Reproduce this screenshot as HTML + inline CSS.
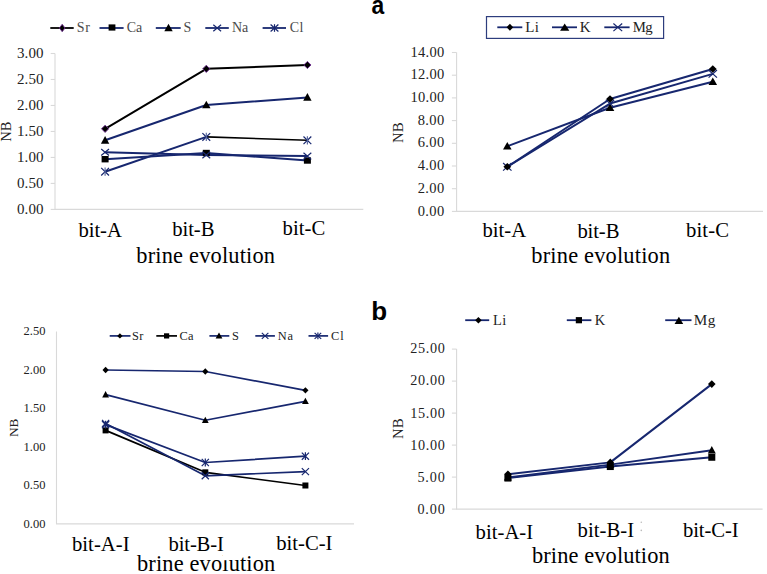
<!DOCTYPE html><html><head><meta charset="utf-8"><style>html,body{margin:0;padding:0;background:#fff;width:767px;height:574px;overflow:hidden}svg{display:block}</style></head><body>
<svg width="767" height="574" viewBox="0 0 767 574">
<rect width="767" height="574" fill="#fff"/>
<path d="M55.0 53.5V209.4H363.3" stroke="#d9d9d9" stroke-width="1.1" fill="none"/>
<path d="M50.7 209.40H55.0" stroke="#d9d9d9" stroke-width="1.1"/>
<path d="M50.7 183.42H55.0" stroke="#d9d9d9" stroke-width="1.1"/>
<path d="M50.7 157.43H55.0" stroke="#d9d9d9" stroke-width="1.1"/>
<path d="M50.7 131.45H55.0" stroke="#d9d9d9" stroke-width="1.1"/>
<path d="M50.7 105.47H55.0" stroke="#d9d9d9" stroke-width="1.1"/>
<path d="M50.7 79.48H55.0" stroke="#d9d9d9" stroke-width="1.1"/>
<path d="M50.7 53.50H55.0" stroke="#d9d9d9" stroke-width="1.1"/>
<text x="17.05" y="214.12" font-family="Liberation Serif" font-size="15.0" textLength="26.45" lengthAdjust="spacing" fill="#222">0.00</text>
<text x="17.05" y="188.14" font-family="Liberation Serif" font-size="15.0" textLength="26.45" lengthAdjust="spacing" fill="#222">0.50</text>
<text x="17.05" y="162.23" font-family="Liberation Serif" font-size="15.0" textLength="26.45" lengthAdjust="spacing" fill="#222">1.00</text>
<text x="17.05" y="136.25" font-family="Liberation Serif" font-size="15.0" textLength="26.45" lengthAdjust="spacing" fill="#222">1.50</text>
<text x="17.05" y="110.19" font-family="Liberation Serif" font-size="15.0" textLength="26.45" lengthAdjust="spacing" fill="#222">2.00</text>
<text x="17.05" y="84.21" font-family="Liberation Serif" font-size="15.0" textLength="26.45" lengthAdjust="spacing" fill="#222">2.50</text>
<text x="17.05" y="58.23" font-family="Liberation Serif" font-size="15.0" textLength="26.45" lengthAdjust="spacing" fill="#222">3.00</text>
<path d="M105.10 152.24L206.30 154.99L307.40 156.08" stroke="#17276f" stroke-width="2.0" fill="none" stroke-linejoin="round"/>
<path d="M105.10 159.20L206.30 153.02L307.40 160.50" stroke="#17276f" stroke-width="2.0" fill="none" stroke-linejoin="round"/>
<path d="M105.10 171.72L206.30 136.91" stroke="#17276f" stroke-width="2.0" fill="none" stroke-linejoin="round"/>
<path d="M206.30 136.91L307.40 140.28" stroke="#000" stroke-width="1.6" fill="none" stroke-linejoin="round"/>
<path d="M105.10 140.28L206.30 104.95L307.40 97.41" stroke="#17276f" stroke-width="2.0" fill="none" stroke-linejoin="round"/>
<path d="M105.10 128.80L206.30 68.83L307.40 64.98" stroke="#000" stroke-width="2.0" fill="none" stroke-linejoin="round"/>
<rect x="101.60" y="156.00" width="7" height="6.4" fill="#000"/>
<rect x="202.80" y="149.82" width="7" height="6.4" fill="#000"/>
<rect x="303.90" y="157.30" width="7" height="6.4" fill="#000"/>
<path d="M101.20 148.94L109.00 155.54M101.20 155.54L109.00 148.94" stroke="#17276f" stroke-width="1.2" fill="none"/>
<path d="M202.40 151.69L210.20 158.29M202.40 158.29L210.20 151.69" stroke="#17276f" stroke-width="1.2" fill="none"/>
<path d="M303.50 152.78L311.30 159.38M303.50 159.38L311.30 152.78" stroke="#17276f" stroke-width="1.2" fill="none"/>
<path d="M101.20 167.92L109.00 175.52M101.20 175.52L109.00 167.92" stroke="#17276f" stroke-width="1.2" fill="none"/><path d="M105.10 167.62V175.82" stroke="#5a6aa0" stroke-width="1.2"/>
<path d="M202.40 133.11L210.20 140.71M202.40 140.71L210.20 133.11" stroke="#17276f" stroke-width="1.2" fill="none"/><path d="M206.30 132.81V141.01" stroke="#5a6aa0" stroke-width="1.2"/>
<path d="M303.50 136.48L311.30 144.08M303.50 144.08L311.30 136.48" stroke="#17276f" stroke-width="1.2" fill="none"/><path d="M307.40 136.18V144.38" stroke="#5a6aa0" stroke-width="1.2"/>
<path d="M105.10 135.98L109.30 143.68L100.90 143.68Z" fill="#000"/>
<path d="M206.30 100.65L210.50 108.35L202.10 108.35Z" fill="#000"/>
<path d="M307.40 93.11L311.60 100.81L303.20 100.81Z" fill="#000"/>
<path d="M105.10 125.20L108.70 128.80L105.10 132.40L101.50 128.80Z" fill="#000" stroke="#6b2a8c" stroke-width="0.9"/>
<path d="M206.30 65.23L209.90 68.83L206.30 72.43L202.70 68.83Z" fill="#000" stroke="#6b2a8c" stroke-width="0.9"/>
<path d="M307.40 61.38L311.00 64.98L307.40 68.58L303.80 64.98Z" fill="#000" stroke="#6b2a8c" stroke-width="0.9"/>
<path d="M50.3 28.0H73.7" stroke="#000" stroke-width="1.8"/><path d="M62.20 24.30L65.00 28.00L62.20 31.70L59.40 28.00Z" fill="#000" stroke="#6b2a8c" stroke-width="0.9"/>
<path d="M99.5 28.0H123.6" stroke="#17276f" stroke-width="1.8"/><rect x="108.60" y="24.40" width="6.8" height="6.2" fill="#000"/>
<path d="M155.8 28.0H180.7" stroke="#17276f" stroke-width="1.8"/><path d="M168.50 23.80L172.70 31.20L164.30 31.20Z" fill="#000"/>
<path d="M205.3 28.0H228.8" stroke="#17276f" stroke-width="1.8"/><path d="M213.30 24.70L221.10 31.30M213.30 31.30L221.10 24.70" stroke="#17276f" stroke-width="1.2" fill="none"/>
<path d="M262.6 28.0H286" stroke="#17276f" stroke-width="1.8"/><path d="M270.60 24.50L278.40 31.50M270.60 31.50L278.40 24.50" stroke="#17276f" stroke-width="1.2" fill="none"/><path d="M274.50 24.20V31.80" stroke="#17276f" stroke-width="1.2"/>
<text x="76.82" y="32.22" font-family="Liberation Serif" font-weight="normal" font-size="14.00" textLength="13.11" lengthAdjust="spacing" fill="#4a4a4a" >Sr</text>
<text x="126.64" y="32.22" font-family="Liberation Serif" font-weight="normal" font-size="14.00" textLength="15.51" lengthAdjust="spacing" fill="#4a4a4a" >Ca</text>
<text x="183.42" y="32.22" font-family="Liberation Serif" font-weight="normal" font-size="14.00" textLength="8.61" lengthAdjust="spacing" fill="#4a4a4a" >S</text>
<text x="231.98" y="32.36" font-family="Liberation Serif" font-weight="normal" font-size="14.00" textLength="16.25" lengthAdjust="spacing" fill="#4a4a4a" >Na</text>
<text x="289.64" y="32.22" font-family="Liberation Serif" font-weight="normal" font-size="14.00" textLength="13.87" lengthAdjust="spacing" fill="#4a4a4a" >Cl</text>
<text x="78.60" y="237.49" font-family="Liberation Serif" font-weight="normal" font-size="20.70" textLength="43.23" lengthAdjust="spacing" fill="#000" >bit-A</text>
<text x="172.20" y="236.29" font-family="Liberation Serif" font-weight="normal" font-size="20.70" textLength="42.25" lengthAdjust="spacing" fill="#000" >bit-B</text>
<text x="282.50" y="234.59" font-family="Liberation Serif" font-weight="normal" font-size="20.70" textLength="42.75" lengthAdjust="spacing" fill="#000" >bit-C</text>
<text x="136.30" y="262.58" font-family="Liberation Serif" font-weight="normal" font-size="22.40" textLength="138.77" lengthAdjust="spacing" fill="#000" >brine evolution</text>
<text transform="translate(6.20 131.80) rotate(-90)" x="-10.00" y="4.75" font-family="Liberation Serif" font-size="14.6" fill="#222">NB</text>
<path d="M456.6 52.5V211.4H763.0" stroke="#d9d9d9" stroke-width="1.1" fill="none"/>
<path d="M451.9 211.40H456.6" stroke="#d9d9d9" stroke-width="1.1"/>
<path d="M451.9 188.70H456.6" stroke="#d9d9d9" stroke-width="1.1"/>
<path d="M451.9 166.00H456.6" stroke="#d9d9d9" stroke-width="1.1"/>
<path d="M451.9 143.30H456.6" stroke="#d9d9d9" stroke-width="1.1"/>
<path d="M451.9 120.60H456.6" stroke="#d9d9d9" stroke-width="1.1"/>
<path d="M451.9 97.90H456.6" stroke="#d9d9d9" stroke-width="1.1"/>
<path d="M451.9 75.20H456.6" stroke="#d9d9d9" stroke-width="1.1"/>
<path d="M451.9 52.50H456.6" stroke="#d9d9d9" stroke-width="1.1"/>
<text x="417.64" y="215.57" font-family="Liberation Serif" font-size="14.5" textLength="26.54" lengthAdjust="spacing" fill="#222">0.00</text>
<text x="417.64" y="192.87" font-family="Liberation Serif" font-size="14.5" textLength="26.54" lengthAdjust="spacing" fill="#222">2.00</text>
<text x="417.64" y="170.17" font-family="Liberation Serif" font-size="14.5" textLength="26.54" lengthAdjust="spacing" fill="#222">4.00</text>
<text x="417.64" y="147.47" font-family="Liberation Serif" font-size="14.5" textLength="26.54" lengthAdjust="spacing" fill="#222">6.00</text>
<text x="417.64" y="124.77" font-family="Liberation Serif" font-size="14.5" textLength="26.54" lengthAdjust="spacing" fill="#222">8.00</text>
<text x="410.39" y="102.14" font-family="Liberation Serif" font-size="14.5" textLength="33.78" lengthAdjust="spacing" fill="#222">10.00</text>
<text x="410.39" y="79.44" font-family="Liberation Serif" font-size="14.5" textLength="33.78" lengthAdjust="spacing" fill="#222">12.00</text>
<text x="410.39" y="56.74" font-family="Liberation Serif" font-size="14.5" textLength="33.78" lengthAdjust="spacing" fill="#222">14.00</text>
<path d="M507.30 146.25L610.00 107.77L712.80 81.78" stroke="#17276f" stroke-width="2.0" fill="none" stroke-linejoin="round"/>
<path d="M507.30 166.79L610.00 103.58L712.80 73.84" stroke="#17276f" stroke-width="2.0" fill="none" stroke-linejoin="round"/>
<path d="M507.30 166.79L610.00 99.04L712.80 68.96" stroke="#17276f" stroke-width="2.0" fill="none" stroke-linejoin="round"/>
<path d="M507.30 142.05L511.60 149.45L503.00 149.45Z" fill="#000"/>
<path d="M610.00 103.57L614.30 110.97L605.70 110.97Z" fill="#000"/>
<path d="M712.80 77.58L717.10 84.98L708.50 84.98Z" fill="#000"/>
<path d="M503.10 162.99L511.50 170.59M503.10 170.59L511.50 162.99" stroke="#17276f" stroke-width="1.2" fill="none"/>
<path d="M605.80 99.78L614.20 107.38M605.80 107.38L614.20 99.78" stroke="#17276f" stroke-width="1.2" fill="none"/>
<path d="M708.60 70.04L717.00 77.64M708.60 77.64L717.00 70.04" stroke="#17276f" stroke-width="1.2" fill="none"/>
<path d="M507.30 162.99L511.20 166.79L507.30 170.59L503.40 166.79Z" fill="#000"/>
<path d="M610.00 95.24L613.90 99.04L610.00 102.84L606.10 99.04Z" fill="#000"/>
<path d="M712.80 65.16L716.70 68.96L712.80 72.76L708.90 68.96Z" fill="#000"/>
<rect x="486.5" y="16.6" width="177.1" height="21.8" fill="#fff" stroke="#2d3d7d" stroke-width="1.2"/>
<path d="M497.3 27.3H522.3" stroke="#17276f" stroke-width="1.8"/><path d="M509.90 23.80L513.20 27.30L509.90 30.80L506.60 27.30Z" fill="#000"/>
<path d="M552 27.3H577" stroke="#17276f" stroke-width="1.8"/><path d="M564.70 23.40L569.30 30.70L560.10 30.70Z" fill="#000"/>
<path d="M604.3 27.3H629.6" stroke="#17276f" stroke-width="1.8"/><path d="M613.40 23.50L622.20 31.10M613.40 31.10L622.20 23.50" stroke="#17276f" stroke-width="1.2" fill="none"/>
<text x="525.35" y="32.00" font-family="Liberation Serif" font-weight="normal" font-size="15.00" textLength="13.63" lengthAdjust="spacing" fill="#222" >Li</text>
<text x="579.85" y="32.00" font-family="Liberation Serif" font-weight="normal" font-size="15.00" textLength="11.53" lengthAdjust="spacing" fill="#222" >K</text>
<text x="632.66" y="32.00" font-family="Liberation Serif" font-weight="normal" font-size="14.80" textLength="20.03" lengthAdjust="spacing" fill="#222" >Mg</text>
<text x="482.50" y="236.69" font-family="Liberation Serif" font-weight="normal" font-size="20.70" textLength="43.63" lengthAdjust="spacing" fill="#000" >bit-A</text>
<text x="577.40" y="237.79" font-family="Liberation Serif" font-weight="normal" font-size="20.70" textLength="42.05" lengthAdjust="spacing" fill="#000" >bit-B</text>
<text x="686.10" y="237.39" font-family="Liberation Serif" font-weight="normal" font-size="20.70" textLength="42.85" lengthAdjust="spacing" fill="#000" >bit-C</text>
<text x="531.30" y="262.58" font-family="Liberation Serif" font-weight="normal" font-size="22.40" textLength="138.87" lengthAdjust="spacing" fill="#000" >brine evolution</text>
<text transform="translate(398.30 132.80) rotate(-90)" x="-10.14" y="4.81" font-family="Liberation Serif" font-size="14.8" fill="#222">NB</text>
<path d="M56.5 331.5V523.9H354.0" stroke="#d9d9d9" stroke-width="1.1" fill="none"/>
<text x="23.60" y="527.84" font-family="Liberation Serif" font-size="12.5" textLength="21.90" lengthAdjust="spacing" fill="#222">0.00</text>
<text x="23.60" y="489.36" font-family="Liberation Serif" font-size="12.5" textLength="21.90" lengthAdjust="spacing" fill="#222">0.50</text>
<text x="23.60" y="450.94" font-family="Liberation Serif" font-size="12.5" textLength="21.90" lengthAdjust="spacing" fill="#222">1.00</text>
<text x="23.60" y="412.46" font-family="Liberation Serif" font-size="12.5" textLength="21.90" lengthAdjust="spacing" fill="#222">1.50</text>
<text x="23.60" y="373.92" font-family="Liberation Serif" font-size="12.5" textLength="21.90" lengthAdjust="spacing" fill="#222">2.00</text>
<text x="23.60" y="335.44" font-family="Liberation Serif" font-size="12.5" textLength="21.90" lengthAdjust="spacing" fill="#222">2.50</text>
<path d="M105.60 430.39L205.30 472.34L305.40 485.50" stroke="#000" stroke-width="1.7" fill="none" stroke-linejoin="round"/>
<path d="M105.60 423.39L205.30 475.80L305.40 471.57" stroke="#17276f" stroke-width="1.7" fill="none" stroke-linejoin="round"/>
<path d="M105.60 424.62L205.30 462.49L305.40 456.18" stroke="#17276f" stroke-width="1.7" fill="none" stroke-linejoin="round"/>
<path d="M105.60 394.61L205.30 420.23L305.40 401.30" stroke="#17276f" stroke-width="1.7" fill="none" stroke-linejoin="round"/>
<path d="M105.60 369.98L205.30 371.52L305.40 390.37" stroke="#17276f" stroke-width="1.7" fill="none" stroke-linejoin="round"/>
<rect x="102.60" y="427.39" width="6" height="6" fill="#000"/>
<rect x="202.30" y="469.34" width="6" height="6" fill="#000"/>
<rect x="302.40" y="482.50" width="6" height="6" fill="#000"/>
<path d="M102.00 419.89L109.20 426.89M102.00 426.89L109.20 419.89" stroke="#17276f" stroke-width="1.2" fill="none"/>
<path d="M201.70 472.30L208.90 479.30M201.70 479.30L208.90 472.30" stroke="#17276f" stroke-width="1.2" fill="none"/>
<path d="M301.80 468.07L309.00 475.07M301.80 475.07L309.00 468.07" stroke="#17276f" stroke-width="1.2" fill="none"/>
<path d="M102.00 421.02L109.20 428.22M102.00 428.22L109.20 421.02" stroke="#17276f" stroke-width="1.2" fill="none"/><path d="M105.60 420.72V428.52" stroke="#17276f" stroke-width="1.2"/>
<path d="M201.70 458.89L208.90 466.09M201.70 466.09L208.90 458.89" stroke="#17276f" stroke-width="1.2" fill="none"/><path d="M205.30 458.59V466.39" stroke="#17276f" stroke-width="1.2"/>
<path d="M301.80 452.58L309.00 459.78M301.80 459.78L309.00 452.58" stroke="#17276f" stroke-width="1.2" fill="none"/><path d="M305.40 452.28V460.08" stroke="#17276f" stroke-width="1.2"/>
<path d="M105.60 391.01L109.00 397.41L102.20 397.41Z" fill="#000"/>
<path d="M205.30 416.63L208.70 423.03L201.90 423.03Z" fill="#000"/>
<path d="M305.40 397.70L308.80 404.10L302.00 404.10Z" fill="#000"/>
<path d="M105.60 366.78L108.70 369.98L105.60 373.18L102.50 369.98Z" fill="#000"/>
<path d="M205.30 368.32L208.40 371.52L205.30 374.72L202.20 371.52Z" fill="#000"/>
<path d="M305.40 387.17L308.50 390.37L305.40 393.57L302.30 390.37Z" fill="#000"/>
<path d="M109.7 335.9H130.5" stroke="#17276f" stroke-width="1.7"/><path d="M119.90 333.20L122.60 335.90L119.90 338.60L117.20 335.90Z" fill="#000"/>
<path d="M156.3 335.9H177" stroke="#000" stroke-width="1.7"/><rect x="164.00" y="333.30" width="5.2" height="5.2" fill="#000"/>
<path d="M209.4 335.9H229.3" stroke="#17276f" stroke-width="1.7"/><path d="M219.00 332.60L222.40 338.50L215.60 338.50Z" fill="#000"/>
<path d="M255.3 335.9H274.9" stroke="#17276f" stroke-width="1.7"/><path d="M261.80 332.90L268.40 338.90M261.80 338.90L268.40 332.90" stroke="#17276f" stroke-width="1.2" fill="none"/>
<path d="M308.5 335.9H328.1" stroke="#17276f" stroke-width="1.7"/><path d="M314.60 332.90L321.20 338.90M314.60 338.90L321.20 332.90" stroke="#17276f" stroke-width="1.2" fill="none"/><path d="M317.90 332.60V339.20" stroke="#17276f" stroke-width="1.2"/>
<text x="131.93" y="339.65" font-family="Liberation Serif" font-weight="normal" font-size="12.40" textLength="11.48" lengthAdjust="spacing" fill="#222" >Sr</text>
<text x="179.60" y="339.65" font-family="Liberation Serif" font-weight="normal" font-size="12.40" textLength="13.93" lengthAdjust="spacing" fill="#222" >Ca</text>
<text x="232.03" y="339.65" font-family="Liberation Serif" font-weight="normal" font-size="12.40" textLength="7.89" lengthAdjust="spacing" fill="#222" >S</text>
<text x="277.83" y="339.78" font-family="Liberation Serif" font-weight="normal" font-size="12.40" textLength="15.27" lengthAdjust="spacing" fill="#222" >Na</text>
<text x="331.10" y="339.65" font-family="Liberation Serif" font-weight="normal" font-size="12.40" textLength="12.48" lengthAdjust="spacing" fill="#222" >Cl</text>
<text x="72.00" y="551.09" font-family="Liberation Serif" font-weight="normal" font-size="20.70" textLength="57.56" lengthAdjust="spacing" fill="#000" >bit-A-I</text>
<text x="168.60" y="550.69" font-family="Liberation Serif" font-weight="normal" font-size="20.70" textLength="55.26" lengthAdjust="spacing" fill="#000" >bit-B-I</text>
<text x="276.30" y="549.79" font-family="Liberation Serif" font-weight="normal" font-size="20.70" textLength="56.16" lengthAdjust="spacing" fill="#000" >bit-C-I</text>
<text x="137.00" y="571.48" font-family="Liberation Serif" font-weight="normal" font-size="22.40" textLength="138.27" lengthAdjust="spacing" fill="#000" >brine evolution</text>
<rect x="222.6" y="553" width="5.8" height="7.2" fill="#fff"/>
<text transform="translate(14.10 427.90) rotate(-90)" x="-9.11" y="4.32" font-family="Liberation Serif" font-size="13.3" fill="#222">NB</text>
<path d="M456.6 349.1V509.1H762.6" stroke="#d9d9d9" stroke-width="1.1" fill="none"/>
<path d="M451.9 509.10H456.6" stroke="#d9d9d9" stroke-width="1.1"/>
<path d="M451.9 477.10H456.6" stroke="#d9d9d9" stroke-width="1.1"/>
<path d="M451.9 445.10H456.6" stroke="#d9d9d9" stroke-width="1.1"/>
<path d="M451.9 413.10H456.6" stroke="#d9d9d9" stroke-width="1.1"/>
<path d="M451.9 381.10H456.6" stroke="#d9d9d9" stroke-width="1.1"/>
<path d="M451.9 349.10H456.6" stroke="#d9d9d9" stroke-width="1.1"/>
<text x="417.43" y="514.17" font-family="Liberation Serif" font-size="14.2" textLength="27.34" lengthAdjust="spacing" fill="#222">0.00</text>
<text x="417.43" y="481.98" font-family="Liberation Serif" font-size="14.2" textLength="27.34" lengthAdjust="spacing" fill="#222">5.00</text>
<text x="410.33" y="449.86" font-family="Liberation Serif" font-size="14.2" textLength="34.44" lengthAdjust="spacing" fill="#222">10.00</text>
<text x="410.33" y="417.67" font-family="Liberation Serif" font-size="14.2" textLength="34.44" lengthAdjust="spacing" fill="#222">15.00</text>
<text x="410.33" y="385.41" font-family="Liberation Serif" font-size="14.2" textLength="34.44" lengthAdjust="spacing" fill="#222">20.00</text>
<text x="410.33" y="353.22" font-family="Liberation Serif" font-size="14.2" textLength="34.44" lengthAdjust="spacing" fill="#222">25.00</text>
<path d="M507.90 478.06L610.30 466.54L711.80 457.26" stroke="#17276f" stroke-width="2.0" fill="none" stroke-linejoin="round"/>
<path d="M507.90 477.42L610.30 464.62L711.80 450.22" stroke="#17276f" stroke-width="2.0" fill="none" stroke-linejoin="round"/>
<path d="M507.90 474.22L610.30 462.38L711.80 384.11" stroke="#17276f" stroke-width="2.0" fill="none" stroke-linejoin="round"/>
<rect x="504.40" y="474.56" width="7" height="7" fill="#000"/>
<rect x="606.80" y="463.04" width="7" height="7" fill="#000"/>
<rect x="708.30" y="453.76" width="7" height="7" fill="#000"/>
<path d="M507.90 473.32L511.90 480.62L503.90 480.62Z" fill="#000"/>
<path d="M610.30 460.52L614.30 467.82L606.30 467.82Z" fill="#000"/>
<path d="M711.80 446.12L715.80 453.42L707.80 453.42Z" fill="#000"/>
<path d="M507.90 470.42L511.70 474.22L507.90 478.02L504.10 474.22Z" fill="#000"/>
<path d="M610.30 458.58L614.10 462.38L610.30 466.18L606.50 462.38Z" fill="#000"/>
<path d="M711.80 380.31L715.60 384.11L711.80 387.91L708.00 384.11Z" fill="#000"/>
<path d="M465.2 320.2H489.2" stroke="#17276f" stroke-width="1.8"/><path d="M478.40 316.90L481.70 320.20L478.40 323.50L475.10 320.20Z" fill="#000"/>
<path d="M566.8 320.2H591.4" stroke="#17276f" stroke-width="1.8"/><rect x="575.80" y="317.10" width="6.2" height="6.2" fill="#000"/>
<path d="M665.2 320.2H691.5" stroke="#17276f" stroke-width="1.8"/><path d="M678.90 316.80L683.20 323.90L674.60 323.90Z" fill="#000"/>
<text x="492.97" y="324.70" font-family="Liberation Serif" font-weight="normal" font-size="14.40" textLength="13.20" lengthAdjust="spacing" fill="#222" >Li</text>
<text x="594.77" y="324.70" font-family="Liberation Serif" font-weight="normal" font-size="14.40" textLength="11.01" lengthAdjust="spacing" fill="#222" >K</text>
<text x="693.64" y="324.50" font-family="Liberation Serif" font-weight="normal" font-size="15.20" textLength="21.65" lengthAdjust="spacing" fill="#222" >Mg</text>
<text x="475.60" y="538.69" font-family="Liberation Serif" font-weight="normal" font-size="20.70" textLength="57.56" lengthAdjust="spacing" fill="#000" >bit-A-I</text>
<text x="577.50" y="537.49" font-family="Liberation Serif" font-weight="normal" font-size="20.70" textLength="56.66" lengthAdjust="spacing" fill="#000" >bit-B-I</text>
<text x="682.90" y="537.29" font-family="Liberation Serif" font-weight="normal" font-size="20.70" textLength="55.76" lengthAdjust="spacing" fill="#000" >bit-C-I</text>
<text x="532.00" y="563.48" font-family="Liberation Serif" font-weight="normal" font-size="22.40" textLength="137.67" lengthAdjust="spacing" fill="#000" >brine evolution</text>
<text transform="translate(398.60 428.90) rotate(-90)" x="-10.14" y="4.81" font-family="Liberation Serif" font-size="14.8" fill="#222">NB</text>
<circle cx="641.3" cy="522.2" r="0.8" fill="#bbb"/><circle cx="641.3" cy="530.4" r="0.8" fill="#bbb"/>
<text x="371.42" y="14.04" font-family="Liberation Sans" font-weight="bold" font-size="25.50" textLength="12.70" lengthAdjust="spacingAndGlyphs" fill="#000">a</text>
<text x="371.18" y="319.80" font-family="Liberation Sans" font-weight="bold" font-size="25.00" textLength="15.88" lengthAdjust="spacingAndGlyphs" fill="#000">b</text>
</svg></body></html>
